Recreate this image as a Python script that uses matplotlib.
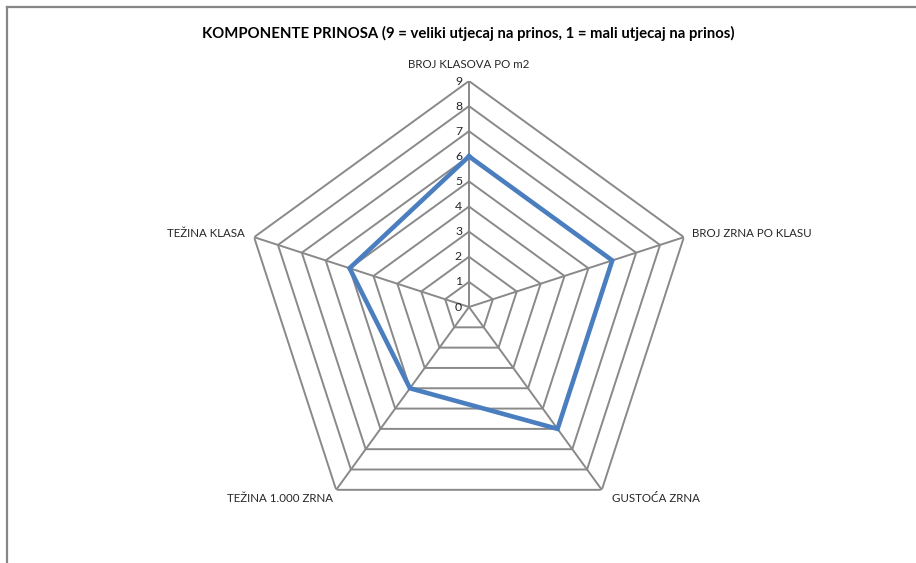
import numpy as np
import matplotlib
matplotlib.use("Agg")
import matplotlib.pyplot as plt
from matplotlib.lines import Line2D

plt.rcParams['font.family'] = ['Lato', 'DejaVu Sans']

# data
categories = ["BROJ KLASOVA PO m2", "BROJ ZRNA PO KLASU", "GUSTOĆA ZRNA",
              "TEŽINA 1.000 ZRNA", "TEŽINA KLASA"]
values = [6, 6, 6, 4, 5]
ring_levels = list(range(0, 10))
title = "KOMPONENTE PRINOSA (9 = veliki utjecaj na prinos, 1 = mali utjecaj na prinos)"

GRID = "#898989"
LINE = "#4A7EBF"
TXT = "#262626"

n = len(categories)
angles = np.arange(n) * 2 * np.pi / n
closed = np.append(angles, angles[0])

fig = plt.figure(figsize=(9.16, 5.63), dpi=100)
ax = fig.add_axes([0.2653, 0.0533, 0.4934, 0.8028], projection="polar")
ax.set_theta_offset(np.pi / 2)
ax.set_theta_direction(-1)
ax.set_ylim(0, 9)
ax.grid(False)
ax.spines["polar"].set_visible(False)
ax.set_xticks([])
ax.set_yticks([])
ax.patch.set_alpha(0)

# pentagon rings
for lvl in ring_levels[1:]:
    ax.plot(closed, [lvl] * (n + 1), color=GRID, lw=1.4, zorder=1)
# spokes
for a in angles:
    ax.plot([a, a], [0, 9], color=GRID, lw=1.4, zorder=1)

# series
ax.plot(closed, values + values[:1], color=LINE, lw=3.3, zorder=3,
        solid_joinstyle="miter")

# value labels on top spoke
for lvl in ring_levels:
    ax.annotate(str(lvl), xy=(0, lvl), xytext=(-5, 0), textcoords="offset points",
                ha="right", va="center", fontsize=8.8, color=TXT)

# category labels
offsets = [(0, 12, "center", "center"),
           (6, 3, "left", "center"),
           (7, -6, "left", "center"),
           (-2, -6, "right", "center"),
           (-7, 3, "right", "center")]
for a, name, (dx, dy, ha, va) in zip(angles, categories, offsets):
    ax.annotate(name, xy=(a, 9), xytext=(dx, dy), textcoords="offset points",
                ha=ha, va=va, fontsize=8.3, color=TXT, annotation_clip=False)

fig.text(0.511, 0.941, title, ha="center", va="center", fontsize=10.7,
         fontweight="bold", color="black")

# chart frame (top and left edges visible)
fig.add_artist(Line2D([7 / 916, 1], [1 - 6.5 / 563, 1 - 6.5 / 563],
                      transform=fig.transFigure, color="#878787", lw=1.6))
fig.add_artist(Line2D([7 / 916, 7 / 916], [0, 1 - 6.5 / 563],
                      transform=fig.transFigure, color="#878787", lw=1.6))

fig.savefig("out.png", dpi=100)
